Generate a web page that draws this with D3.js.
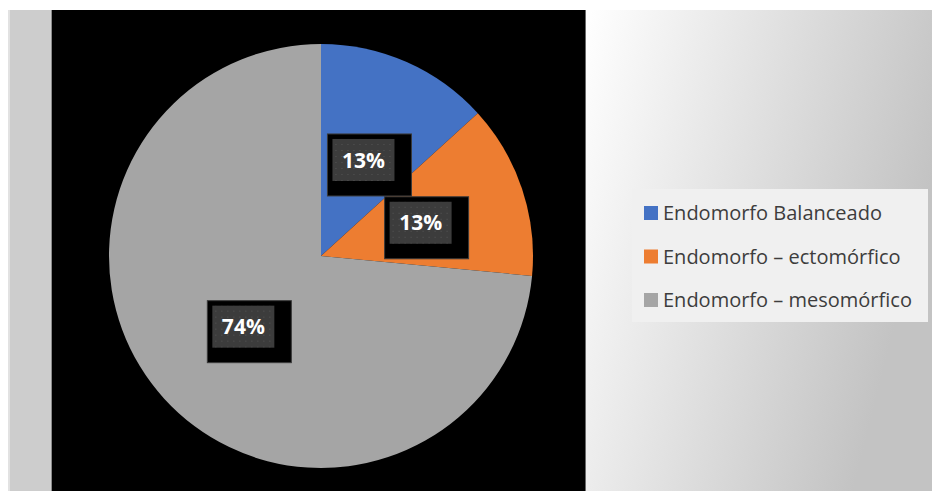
<!DOCTYPE html>
<html>
<head>
<meta charset="utf-8">
<script src="https://cdn.jsdelivr.net/npm/d3@7"></script>
<style>
	html, body { margin: 0; padding: 0; background: #ffffff; }
	svg { display: block; }
</style>
</head>
<body>
<script>
	'use strict';

	// chart data
	var categories = ["Endomorfo Balanceado", "Endomorfo – ectomórfico", "Endomorfo – mesomórfico"];
	var values = [13.25, 13.25, 73.5];
	var palette = ["#4472c4", "#ed7d31", "#a5a5a5"];

	var width = 932,
	height = 491;

	var svg = d3.select("body").append("svg")
		.attr("width", width)
		.attr("height", height);

	var defs = svg.append("defs");

	var grad = defs.append("linearGradient")
		.attr("id", "sideGrad")
		.attr("x1", "0").attr("y1", "0")
		.attr("x2", "1").attr("y2", "0.35");
	grad.append("stop").attr("offset", "0%").attr("stop-color", "#ffffff");
	grad.append("stop").attr("offset", "100%").attr("stop-color", "#c3c3c3");

	var dots = defs.append("pattern")
		.attr("id", "dots")
		.attr("width", 6)
		.attr("height", 6)
		.attr("patternUnits", "userSpaceOnUse");
	dots.append("rect").attr("width", 6).attr("height", 6).attr("fill", "#3c3c3c");
	dots.append("rect").attr("x", 2).attr("y", 2).attr("width", 1).attr("height", 1).attr("fill", "#555555");

	// backdrop pieces
	svg.append("rect")
		.attr("x", 8).attr("y", 10)
		.attr("width", 43).attr("height", height - 10)
		.attr("fill", "#cdcdcd");
	svg.append("rect")
		.attr("x", 8).attr("y", 10)
		.attr("width", 2).attr("height", height - 10)
		.attr("fill", "#e2e2e2");
	svg.append("rect")
		.attr("x", 586).attr("y", 10)
		.attr("width", width - 586).attr("height", height - 10)
		.attr("fill", "url(#sideGrad)");
	svg.append("rect")
		.attr("x", 51).attr("y", 10)
		.attr("width", 535).attr("height", height - 10)
		.attr("fill", "#000000");
	svg.append("line")
		.attr("x1", 51.5).attr("x2", 51.5)
		.attr("y1", 10).attr("y2", height)
		.attr("stroke", "#8a8a8a");
	svg.append("line")
		.attr("x1", 585.5).attr("x2", 585.5)
		.attr("y1", 10).attr("y2", height)
		.attr("stroke", "#6a6a6a");

	// pie
	var cx = 321,
	cy = 256,
	radius = 212;

	var color = d3.scaleOrdinal().domain(categories).range(palette);

	var data = categories.map(function (c, i) {
		return { name: c, value: values[i] };
	});

	var pie = d3.pie()
		.sort(null)
		.value(function (d) { return d.value; });

	var arc = d3.arc().innerRadius(0).outerRadius(radius);
	var labelArc = d3.arc().innerRadius(105).outerRadius(105);

	var arcs = pie(data);

	var g = svg.append("g")
		.attr("transform", "translate(" + cx + "," + cy + ")");

	g.selectAll("path.slice")
		.data(arcs)
		.enter().append("path")
		.attr("class", "slice")
		.attr("d", arc)
		.attr("fill", function (d) { return color(d.data.name); });

	var labels = g.selectAll("g.label")
		.data(arcs)
		.enter().append("g")
		.attr("class", "label")
		.attr("transform", function (d) {
			var c = labelArc.centroid(d);
			return "translate(" + c[0] + "," + c[1] + ")";
		});

	labels.append("rect")
		.attr("x", -36).attr("y", -26)
		.attr("width", 84).attr("height", 62)
		.attr("fill", "#000000")
		.attr("stroke", "#3a3a3a");

	labels.append("rect")
		.attr("x", -31).attr("y", -21)
		.attr("width", 62).attr("height", 42)
		.attr("fill", "url(#dots)");

	labels.append("text")
		.attr("text-anchor", "middle")
		.attr("dy", "0.36em")
		.attr("fill", "#ffffff")
		.style("font-family", "'Open Sans', sans-serif")
		.style("font-weight", "bold")
		.style("font-size", "21px")
		.text(function (d) { return Math.round(d.data.value) + "%"; });

	// legend
	var legend = svg.append("g")
		.attr("transform", "translate(632,189)");

	legend.append("rect")
		.attr("width", 296).attr("height", 133)
		.attr("fill", "#f0f0f0");

	var row = d3.scalePoint()
		.domain(categories)
		.range([23, 110]);

	var items = legend.selectAll("g.item")
		.data(categories)
		.enter().append("g")
		.attr("class", "item")
		.attr("transform", function (d) { return "translate(0," + row(d) + ")"; });

	items.append("rect")
		.attr("x", 12).attr("y", -6)
		.attr("width", 14).attr("height", 14)
		.attr("fill", function (d) { return color(d); });

	items.append("text")
		.attr("x", 31)
		.attr("y", 1)
		.attr("dy", "0.35em")
		.attr("fill", "#3d3d3d")
		.style("font-family", "'Open Sans', sans-serif")
		.style("font-size", "20px")
		.text(function (d) { return d; });
</script>
</body>
</html>
